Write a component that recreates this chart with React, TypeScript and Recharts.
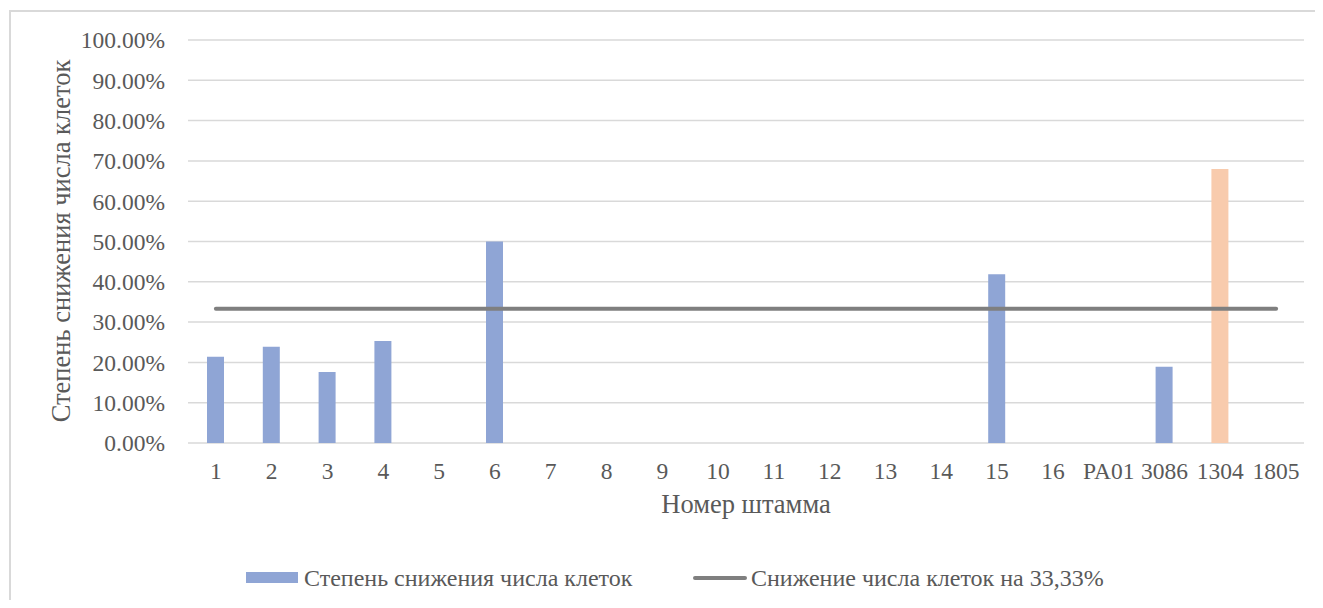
import { Bar, CartesianGrid, Cell, ComposedChart, Line, XAxis, YAxis } from 'recharts'

const strains = ['1', '2', '3', '4', '5', '6', '7', '8', '9', '10', '11', '12', '13', '14', '15', '16', 'PA01', '3086', '1304', '1805']
const reduction = [0.214, 0.239, 0.176, 0.253, 0, 0.5, 0, 0, 0, 0, 0, 0, 0, 0, 0.419, 0, 0, 0.189, 0.68, 0]
const threshold = 0.3333
const yTicks = [0, 0.1, 0.2, 0.3, 0.4, 0.5, 0.6, 0.7, 0.8, 0.9, 1]
const highlighted = ['1304']

const barName = 'Степень снижения числа клеток'
const lineName = 'Снижение числа клеток на 33,33%'

const font = "'Times New Roman', 'Liberation Serif', 'DejaVu Serif', serif"
const textColor = '#595959'
const blue = '#8fa5d5'
const orange = '#f8cbad'
const grey = '#7f7f7f'

const data = strains.map((s, i) => ({ strain: s, value: reduction[i], line: threshold }))

export default function App() {
  return (
    <div style={{ position: 'relative', width: 1323, height: 608, margin: -8, overflow: 'hidden', background: '#fff', fontFamily: font }}>
      <div
        style={{
          position: 'absolute',
          left: 9,
          top: 10,
          width: 1311,
          height: 640,
          border: '2px solid #d9d9d9',
        }}
      />
      <div style={{ position: 'absolute', left: 0, top: 0 }}>
        <ComposedChart width={1323} height={608} data={data} margin={{ top: 40, right: 19, bottom: 135, left: 0 }}>
          <CartesianGrid vertical={false} stroke="#d9d9d9" strokeWidth={1.5} />
          <XAxis
            dataKey="strain"
            height={30}
            axisLine={false}
            tickLine={false}
            tickSize={0}
            tickMargin={19}
            interval={0}
            tick={{ fill: textColor, fontSize: 23.5, fontFamily: font }}
          />
          <YAxis
            width={188}
            domain={[0, 1]}
            ticks={yTicks}
            axisLine={false}
            tickLine={false}
            tickSize={0}
            tickMargin={23}
            tickFormatter={(v) => `${(Number(v) * 100).toFixed(2)}%`}
            tick={{ fill: textColor, fontSize: 23.5, fontFamily: font }}
          />
          <Bar dataKey="value" name={barName} barSize={17} fill={blue} isAnimationActive={false}>
            {data.map((d) => (
              <Cell key={d.strain} fill={highlighted.includes(d.strain) ? orange : blue} />
            ))}
          </Bar>
          <Line
            dataKey="line"
            name={lineName}
            stroke={grey}
            strokeWidth={4}
            strokeLinecap="round"
            dot={false}
            activeDot={false}
            isAnimationActive={false}
          />
        </ComposedChart>
      </div>
      <svg width={1323} height={608} style={{ position: 'absolute', left: 0, top: 0, pointerEvents: 'none', fontFamily: font }}>
        <text
          x={61}
          y={241}
          transform="rotate(-90 61 241)"
          textAnchor="middle"
          dominantBaseline="central"
          fontSize={26.5}
          fill={textColor}
        >
          Степень снижения числа клеток
        </text>
        <text x={746} y={513} textAnchor="middle" fontSize={26.5} fill={textColor}>
          Номер штамма
        </text>
        <rect x={246} y={572} width={52} height={11} fill={blue} />
        <text x={304} y={586} fontSize={24} fill={textColor}>
          {barName}
        </text>
        <line x1={695} y1={578} x2={745} y2={578} stroke={grey} strokeWidth={4} strokeLinecap="round" />
        <text x={751} y={586} fontSize={24} fill={textColor}>
          {lineName}
        </text>
      </svg>
    </div>
  )
}
